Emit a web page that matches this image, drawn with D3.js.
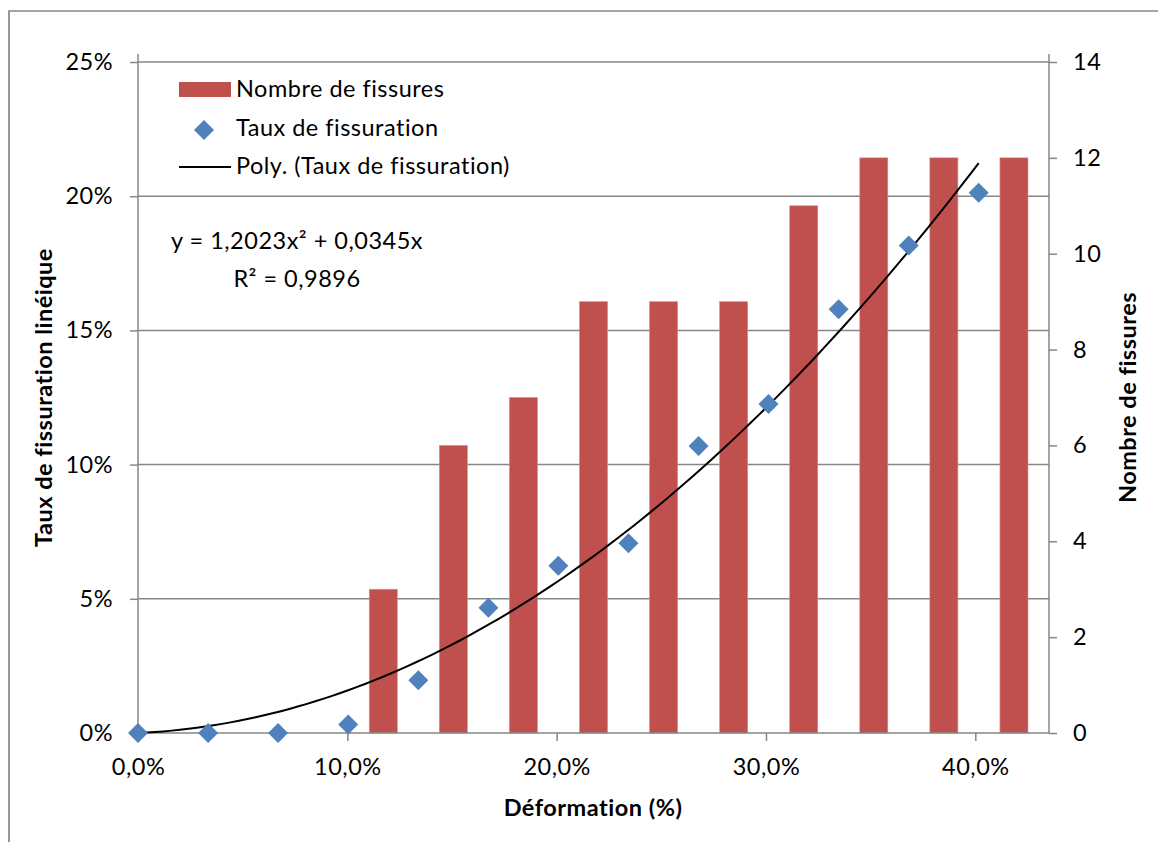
<!DOCTYPE html>
<html><head><meta charset="utf-8">
<script src="https://cdn.jsdelivr.net/npm/d3@7/dist/d3.min.js"></script>
<style>
body{margin:0;background:#fff}
text{font-family:Lato,"Liberation Sans",sans-serif;fill:#000;letter-spacing:0.5px}
</style>
</head><body>
<svg id="chart" width="1158" height="842"></svg>
<script>
// ---- data ----
const deformation = [0, 0.0335, 0.0669, 0.1004, 0.1339, 0.1674, 0.2008, 0.2343, 0.2678, 0.3012, 0.3347, 0.3682, 0.4016];
const tauxFissuration = [0, 0, 0, 0.0032, 0.0197, 0.0467, 0.0623, 0.0707, 0.1069, 0.1226, 0.1579, 0.1816, 0.2013];
const nombreFissures = [0, 0, 0, 3, 6, 7, 9, 9, 9, 11, 12, 12, 12];
const leftTicks = [0, 0.05, 0.10, 0.15, 0.20, 0.25];
const rightTicks = [0, 2, 4, 6, 8, 10, 12, 14];
const xTicks = [0, 0.1, 0.2, 0.3, 0.4];
const legendLabels = ["Nombre de fissures", "Taux de fissuration", "Poly. (Taux de fissuration)"];
const equationLines = ["y = 1,2023x² + 0,0345x", "R² = 0,9896"];
const titles = {y: "Taux de fissuration linéique", y2: "Nombre de fissures", x: "Déformation (%)"};

// ---- layout ----
const svg = d3.select("#chart");
const L = 138, R = 1049, T = 62, B = 733;
const grey = "#868686";
const FS = 23.5;
const fr = d3.formatLocale({decimal: ",", thousands: " ", grouping: [3], currency: ["", "€"]});
const fmtX = fr.format(".1%"), fmtY = fr.format(".0%");

const x = d3.scaleLinear().domain([0, 0.4352]).range([L, R]);
const y = d3.scaleLinear().domain([0, 0.25]).range([B, T]);
const y2 = d3.scaleLinear().domain([0, 14]).range([B, T]);
const xb = d3.scaleBand().domain(deformation.map((d, i) => i)).range([L, R]).paddingInner(0.6).paddingOuter(0.3);

// chart border (cut by window on right/bottom)
svg.append("path").attr("d", `M9,850 V11 H1170`).attr("fill", "none").attr("stroke", grey).attr("stroke-width", 1.7);

// gridlines
svg.append("g").selectAll("line").data(leftTicks.filter(d => d > 0)).join("line")
  .attr("x1", L).attr("x2", R).attr("y1", d => y(d)).attr("y2", d => y(d))
  .attr("stroke", grey).attr("stroke-width", 1.5);

// bars
svg.append("g").selectAll("rect").data(nombreFissures).join("rect")
  .attr("x", (d, i) => xb(i)).attr("width", xb.bandwidth())
  .attr("y", d => y2(d)).attr("height", d => B - y2(d))
  .attr("fill", "#C0504D").attr("stroke", "#d88e8c").attr("stroke-width", 0.6);

// axes
const gL = svg.append("g").attr("transform", `translate(${L},0)`)
  .call(d3.axisLeft(y).tickValues(leftTicks).tickFormat(fmtY).tickSize(8).tickPadding(17));
const gR = svg.append("g").attr("transform", `translate(${R},0)`)
  .call(d3.axisRight(y2).tickValues(rightTicks).tickSize(8).tickPadding(16));
const gB = svg.append("g").attr("transform", `translate(0,${B})`)
  .call(d3.axisBottom(x).tickValues(xTicks).tickFormat(fmtX).tickSize(8).tickPadding(17));
[gL, gR, gB].forEach(g => {
  g.select(".domain").remove();
  g.selectAll(".tick line").attr("stroke", grey).attr("stroke-width", 1.5);
  g.selectAll(".tick text").attr("font-size", FS).attr("font-family", "Lato").attr("fill", "#000");
});
gB.selectAll(".tick text").attr("dy", "0.71em");
// axis lines
svg.append("line").attr("x1", L).attr("x2", L).attr("y1", T - 8).attr("y2", B).attr("stroke", grey).attr("stroke-width", 1.5);
svg.append("line").attr("x1", R).attr("x2", R).attr("y1", T - 8).attr("y2", B).attr("stroke", grey).attr("stroke-width", 1.5);
svg.append("line").attr("x1", L).attr("x2", R).attr("y1", B).attr("y2", B).attr("stroke", grey).attr("stroke-width", 1.5);

// polynomial trendline (least squares, through origin: y = a x^2 + b x)
let s4 = 0, s3 = 0, s2 = 0, s2y = 0, s1y = 0;
deformation.forEach((xv, i) => {
  const yv = tauxFissuration[i];
  s4 += xv ** 4; s3 += xv ** 3; s2 += xv ** 2; s2y += xv * xv * yv; s1y += xv * yv;
});
const det = s4 * s2 - s3 * s3;
const a = (s2y * s2 - s3 * s1y) / det;
const b = (s4 * s1y - s3 * s2y) / det;
const xMax = d3.max(deformation);
const trend = d3.range(0, 101).map(k => { const xv = xMax * k / 100; return [xv, a * xv * xv + b * xv]; });
svg.append("path").datum(trend)
  .attr("d", d3.line().x(d => x(d[0])).y(d => y(d[1])))
  .attr("fill", "none").attr("stroke", "#000").attr("stroke-width", 2);

// scatter diamonds
const diamond = d3.symbol().type(d3.symbolSquare).size(200);
svg.append("g").selectAll("path").data(deformation).join("path")
  .attr("d", diamond)
  .attr("transform", (d, i) => `translate(${x(d)},${y(tauxFissuration[i])}) rotate(45)`)
  .attr("fill", "#4F81BD");

// equation
const eq = svg.append("text").attr("text-anchor", "middle").attr("font-size", FS);
eq.append("tspan").attr("x", 297).attr("y", 249).text(equationLines[0]);
eq.append("tspan").attr("x", 297).attr("y", 287).text(equationLines[1]);

// legend
const lg = svg.append("g");
lg.append("rect").attr("x", 179).attr("y", 82).attr("width", 52).attr("height", 15).attr("fill", "#C0504D");
lg.append("path").attr("d", diamond).attr("transform", "translate(204,130) rotate(45)").attr("fill", "#4F81BD");
lg.append("line").attr("x1", 179).attr("x2", 231).attr("y1", 167).attr("y2", 167).attr("stroke", "#000").attr("stroke-width", 2);
lg.selectAll("text").data(legendLabels).join("text")
  .attr("x", 236).attr("y", (d, i) => 89 + i * 38.5).attr("dy", "0.35em")
  .attr("font-size", FS).text(d => d);

// axis titles
svg.append("text").attr("transform", `translate(52,${(T + B) / 2}) rotate(-90)`)
  .attr("text-anchor", "middle").attr("font-weight", "bold").attr("font-size", FS).text(titles.y);
svg.append("text").attr("transform", `translate(1136,${(T + B) / 2}) rotate(-90)`)
  .attr("text-anchor", "middle").attr("font-weight", "bold").attr("font-size", FS).text(titles.y2);
svg.append("text").attr("x", 593).attr("y", 816)
  .attr("text-anchor", "middle").attr("font-weight", "bold").attr("font-size", FS).text(titles.x);
</script>
</body></html>
